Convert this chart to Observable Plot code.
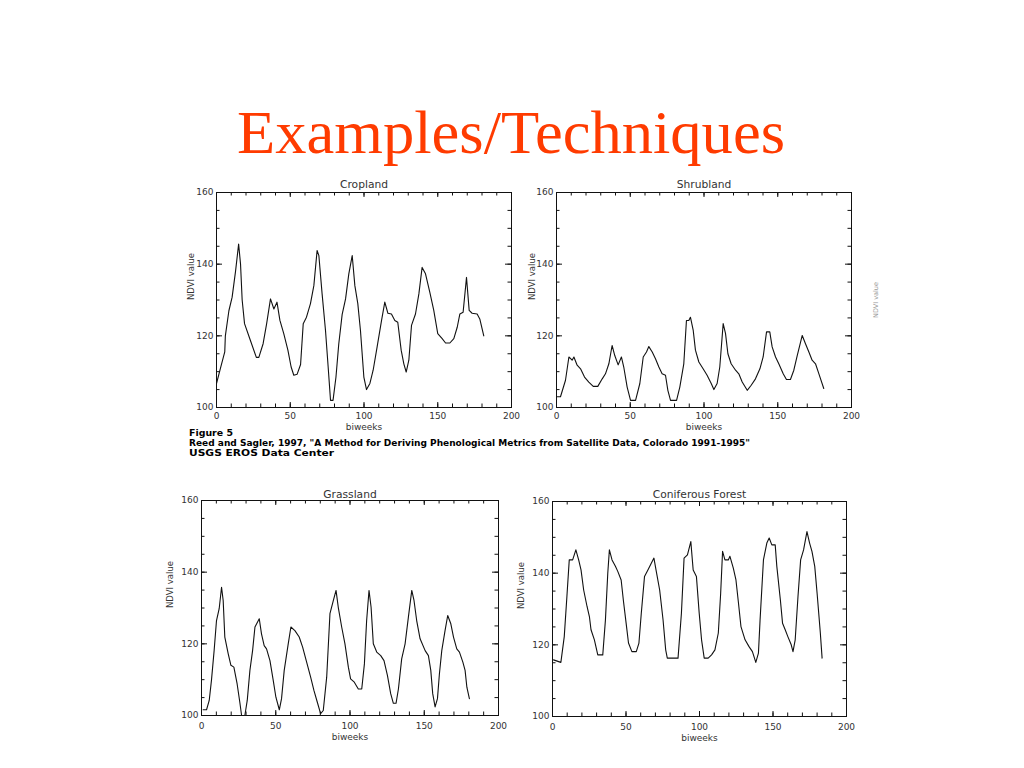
<!DOCTYPE html>
<html>
<head>
<meta charset="utf-8">
<script src="https://cdn.jsdelivr.net/npm/d3@7"></script>
<script src="https://cdn.jsdelivr.net/npm/@observablehq/plot@0.6"></script>
<style>
html, body { margin: 0; padding: 0; background: #fff; }
#page { position: relative; width: 1024px; height: 768px; overflow: hidden; background: #fff; }
.panel { position: absolute; overflow: hidden; }
.panel svg { max-width: none !important; }
#overlay { position: absolute; left: 0; top: 0; width: 1024px; height: 768px; pointer-events: none; }
</style>
</head>
<body>
<div id="page">
  <svg id="overlay" width="1024" height="768" xmlns="http://www.w3.org/2000/svg">
    <text x="511" y="153" text-anchor="middle" textLength="548" lengthAdjust="spacingAndGlyphs"
      font-family="Liberation Serif, Times New Roman, serif" font-size="61" fill="#ff3b00">Examples/Techniques</text>
    <g font-family="DejaVu Sans, sans-serif" font-weight="bold" font-size="8.3" fill="#000">
      <text x="189" y="436" textLength="44" lengthAdjust="spacingAndGlyphs">Figure 5</text>
      <text x="189" y="446" textLength="561" lengthAdjust="spacingAndGlyphs">Reed and Sagler, 1997, "A Method for Deriving Phenological Metrics from Satellite Data, Colorado 1991-1995"</text>
      <text x="189" y="456" textLength="145" lengthAdjust="spacingAndGlyphs">USGS EROS Data Center</text>
    </g>
    <text transform="translate(878,300) rotate(-90)" text-anchor="middle" font-family="DejaVu Sans, sans-serif"
      font-size="6.5" fill="#999">NDVI value</text>
  </svg>
</div>
<script>
// ---- data ----
const xTicks = [0, 50, 100, 150, 200];
const yTicks = [100, 120, 140, 160];
const xMinor = d3.range(0, 201, 10);
const yMinor = d3.range(100, 161, 5);
const titles = ["Cropland", "Shrubland", "Grassland", "Coniferous Forest"];
const xLabel = "biweeks";
const yLabel = "NDVI value";

const cropX = [0,2.7,5.6,6,8.4,10.6,12.9,15,16.3,17.4,19,23,27,28.7,31.6,34,36.6,38.9,41,43,45.6,48.4,50.6,52.4,54.7,57,58.8,61,63.7,66,68.2,69.4,71.6,73.9,75.7,77.3,79,81,82.9,85.2,87.5,89.7,92,93.8,95.8,97.6,99.9,101.7,104,106.2,108.9,111.9,114.1,116.2,118.6,120.9,122.9,125.2,127,128.6,130.4,132.2,134.9,137.2,139.4,141.7,144.6,147.3,150,153,155.3,158.2,160.9,163.2,165,167.2,169.5,171.3,173.3,176.7,178.5,181.2];
const cropY = [106.7,111,115.5,120,127,130.8,138,145.6,140,130,123.4,118.7,114,114,117.8,123.4,130.3,127.5,129.4,124.3,120.6,116,111.3,109,109.3,112,123.4,125.2,129,134,143.8,142.4,131.7,121.5,111.3,102,102,108.5,117.8,126,130.3,137.3,142.4,134,129,121.5,108.5,105,106.7,110.4,116.9,124.3,129.4,126.3,126.1,124.3,123.8,116,112.2,109.9,113.2,122.9,126.1,131.7,139.1,137.3,132.2,127.1,120.6,119.2,118,118,119.2,122.4,126.1,126.6,136.3,127.1,126.3,126.1,124.7,120];

const shrubX = [0.5,2.7,6.1,8.4,10.6,11.8,14,16.3,19,21.9,24.9,28,31,33.2,35.5,37.7,39.5,41.8,44,45.6,47.9,50.2,53.6,56.5,58.8,61,62.6,64.9,67.1,69.4,71.6,73.9,75.5,77.3,81.4,83.6,86.3,88.1,89.7,90.8,92.7,94.2,96.5,99.4,102.1,104.9,106.7,108.9,110.7,113,114.6,116.2,118.4,121.4,123.6,125.9,129.3,132,134.9,137.9,140.1,142.4,144.6,146.2,148.5,150.7,153.7,155.9,158.6,160.9,163.2,166.6,168.8,171.1,173.3,175.6,177.9,181.2];
const shrubY = [103,103,107.6,114.1,113.2,114.1,111.8,110.8,108.5,107.1,105.9,105.9,108,109.4,112.2,117.3,114.5,111.9,114.1,111.3,105.7,102,102,106.7,114.1,115.5,117,115.5,113.6,111.3,109.4,109,104.8,102,102,105.7,112.2,124.3,124.3,125.2,121.5,116,112.7,110.8,109,106.7,105,106.7,111.3,123.4,120.6,115,112.2,110.4,109.4,107.1,104.8,106.2,108,110.8,114.1,121.1,121.1,116.9,114.1,112.2,109.4,107.8,107.8,110.4,114.5,120.1,117.8,115.5,113.2,112.2,109.4,105.3];

const grassX = [1.1,3.4,5.2,6.7,8.5,10.1,11.9,13.5,14.6,15.7,18,19.8,21.8,24,25.8,27,29.2,30.8,32.6,34.4,36,38.9,40.4,42.2,43.8,46.1,48.3,50.1,52.4,53.9,55.7,58.4,60.2,62.9,65.8,68.1,70.8,73.5,75.7,78,80.2,82,84.3,86.5,88.8,90.6,92.1,94.4,96.6,98.9,100.4,102.9,105.6,107.9,109.7,111.2,112.8,114.2,115.7,118,120.7,122.9,125.2,127.4,129.2,131,132.6,134.8,137.1,139.3,141.6,143.1,144.9,147.2,150.6,152.8,154.4,155.7,157.3,158.9,160.2,161.8,164,165.8,167.9,169.7,171.9,173.7,176,177.5,178.7,180.4];
const grassY = [101.6,101.6,104.2,109.8,118.1,126.5,129.8,135.8,132.1,121.9,117.2,114,113.5,108.8,103.7,100,100,104.2,112.6,118.1,124.7,127,122.8,119.5,118.6,115.3,109.8,105.1,101.6,104.7,112.6,120,124.7,123.7,121.9,119.1,114.9,110.7,107,103.7,100.5,101.4,110.7,128.4,132.1,134.9,130.2,124.7,120,113.5,110.2,109.3,107.4,107.4,114.4,126.5,134.9,130.2,120,117.7,116.7,115.3,111.2,106.1,103.4,103.4,107.4,115.8,120,127.4,134.9,132.1,126.5,121.4,118.1,116.7,112.6,106.1,102.4,104.7,111.6,118.1,123.7,127.9,125.6,121.9,118.6,117.7,114.9,112.6,107.9,104.7];

const conX = [0.7,5.7,8,9.8,11.4,13.7,15.9,17.8,19.4,21.2,23.5,25.1,26.2,28.5,30.8,34.2,36,37.6,38.7,40.5,42.8,44.4,46.7,48.3,50.1,51.7,54,57,58.8,60.4,62.6,64.9,67.2,69,70.6,72.9,75.2,77,78.1,85.4,87.7,89.5,91.8,94.1,95.7,97.9,99.8,101.4,103.2,105.9,108.2,110.5,112.8,114.4,115.7,117.3,119.6,120.7,123,124.8,126.4,128.2,131,133.7,136,138.3,140.1,141.2,143.5,145.8,147.4,149.2,151.5,152.6,155,156.5,158.3,160.1,162.4,163.6,165.1,167,168.8,170.8,173.1,174.9,176.5,178.4,180,182.2,183.4];
const conY = [115.8,115.1,122.3,133.5,143.7,143.7,146.5,143.7,140.9,135.3,130.7,127.9,124.2,121.4,117.2,117.2,126.9,140,146.5,143.7,141.9,140.5,138.1,132.1,126,120.5,118.1,118.1,120.5,128.8,139.1,140.9,142.8,144.2,140.5,135.3,127,118.6,116.3,116.3,128.8,144.2,145.1,148.8,140.9,139.1,128.8,121.4,116.3,116.3,117.2,118.6,123.3,134.4,146.1,143.7,143.7,144.7,141.4,138.1,132.1,125.1,121.4,119.5,118.1,115.1,117.7,126.9,143.7,148.4,149.8,147.9,147.9,141.9,132.6,126,124.2,122.3,120,118.1,121.4,133.5,143.7,146.5,151.6,148.4,146.1,141.9,134.4,123.3,116.3];

// ---- layout (frame position in page pixels, text offsets) ----
const layout = [
  {xs: cropX,  ys: cropY,  fl: 216, ft: 192, fw: 295, fh: 215, tDy: -12, yDx: -25, pad: 5,  bDy: 22.5},
  {xs: shrubX, ys: shrubY, fl: 556, ft: 192, fw: 295, fh: 215, tDy: -12, yDx: -24, pad: 5,  bDy: 22.5},
  {xs: grassX, ys: grassY, fl: 201, ft: 500, fw: 297, fh: 215, tDy: -10, yDx: -31, pad: 7,  bDy: 24},
  {xs: conX,   ys: conY,   fl: 552, ft: 501, fw: 294, fh: 215, tDy: -11, yDx: -31, pad: 7,  bDy: 24}
];

const mL = 50, mR = 30, mT = 24, mB = 36;
const page = document.getElementById("page");
const ink = "#111";
const textInk = "#333";

layout.forEach((p, i) => {
  const W = p.fw + mL + mR, H = p.fh + mT + mB;
  const chart = Plot.plot({
    width: W, height: H,
    marginLeft: mL, marginRight: mR, marginTop: mT, marginBottom: mB,
    x: {domain: [0, 200]},
    y: {domain: [100, 160]},
    style: {fontFamily: "DejaVu Sans, sans-serif", fontSize: "9px", color: textInk, background: "transparent", maxWidth: "none"},
    marks: [
      // inward minor + major ticks on all four sides (IDL style box)
      Plot.tickX(xMinor, {x: d => d, insetTop: p.fh - 3.5, stroke: ink}),
      Plot.tickX(xMinor, {x: d => d, insetBottom: p.fh - 3.5, stroke: ink}),
      Plot.tickY(yMinor, {y: d => d, insetRight: p.fw - 3.5, stroke: ink}),
      Plot.tickY(yMinor, {y: d => d, insetLeft: p.fw - 3.5, stroke: ink}),
      Plot.tickX(xTicks, {x: d => d, insetTop: p.fh - 5, stroke: ink}),
      Plot.tickX(xTicks, {x: d => d, insetBottom: p.fh - 5, stroke: ink}),
      Plot.tickY(yTicks, {y: d => d, insetRight: p.fw - 6, stroke: ink}),
      Plot.tickY(yTicks, {y: d => d, insetLeft: p.fw - 6, stroke: ink}),
      Plot.frame({stroke: ink, strokeWidth: 1}),
      Plot.axisX({ticks: xTicks, tickSize: 0, tickPadding: p.pad, label: null, tickFormat: d => String(d)}),
      Plot.axisY({ticks: yTicks, tickSize: 0, tickPadding: 3, label: null, tickFormat: d => String(d)}),
      Plot.line(p.ys, {x: p.xs, y: p.ys, stroke: ink, strokeWidth: 1.1}),
      Plot.text([titles[i]], {text: d => d, frameAnchor: "top", dy: p.tDy, fontSize: 10.7, fill: textInk}),
      Plot.text([xLabel], {text: d => d, frameAnchor: "bottom", dy: p.bDy, fontSize: 9, fill: textInk}),
      Plot.text([yLabel], {text: d => d, frameAnchor: "left", dx: p.yDx, rotate: -90, fontSize: 8.5, fill: textInk})
    ]
  });
  chart.style.maxWidth = "none";
  const div = document.createElement("div");
  div.className = "panel";
  div.style.left = (p.fl - mL) + "px";
  div.style.top = (p.ft - mT) + "px";
  div.style.width = W + "px";
  div.style.height = H + "px";
  div.appendChild(chart);
  page.insertBefore(div, page.firstChild);
});
</script>
</body>
</html>
